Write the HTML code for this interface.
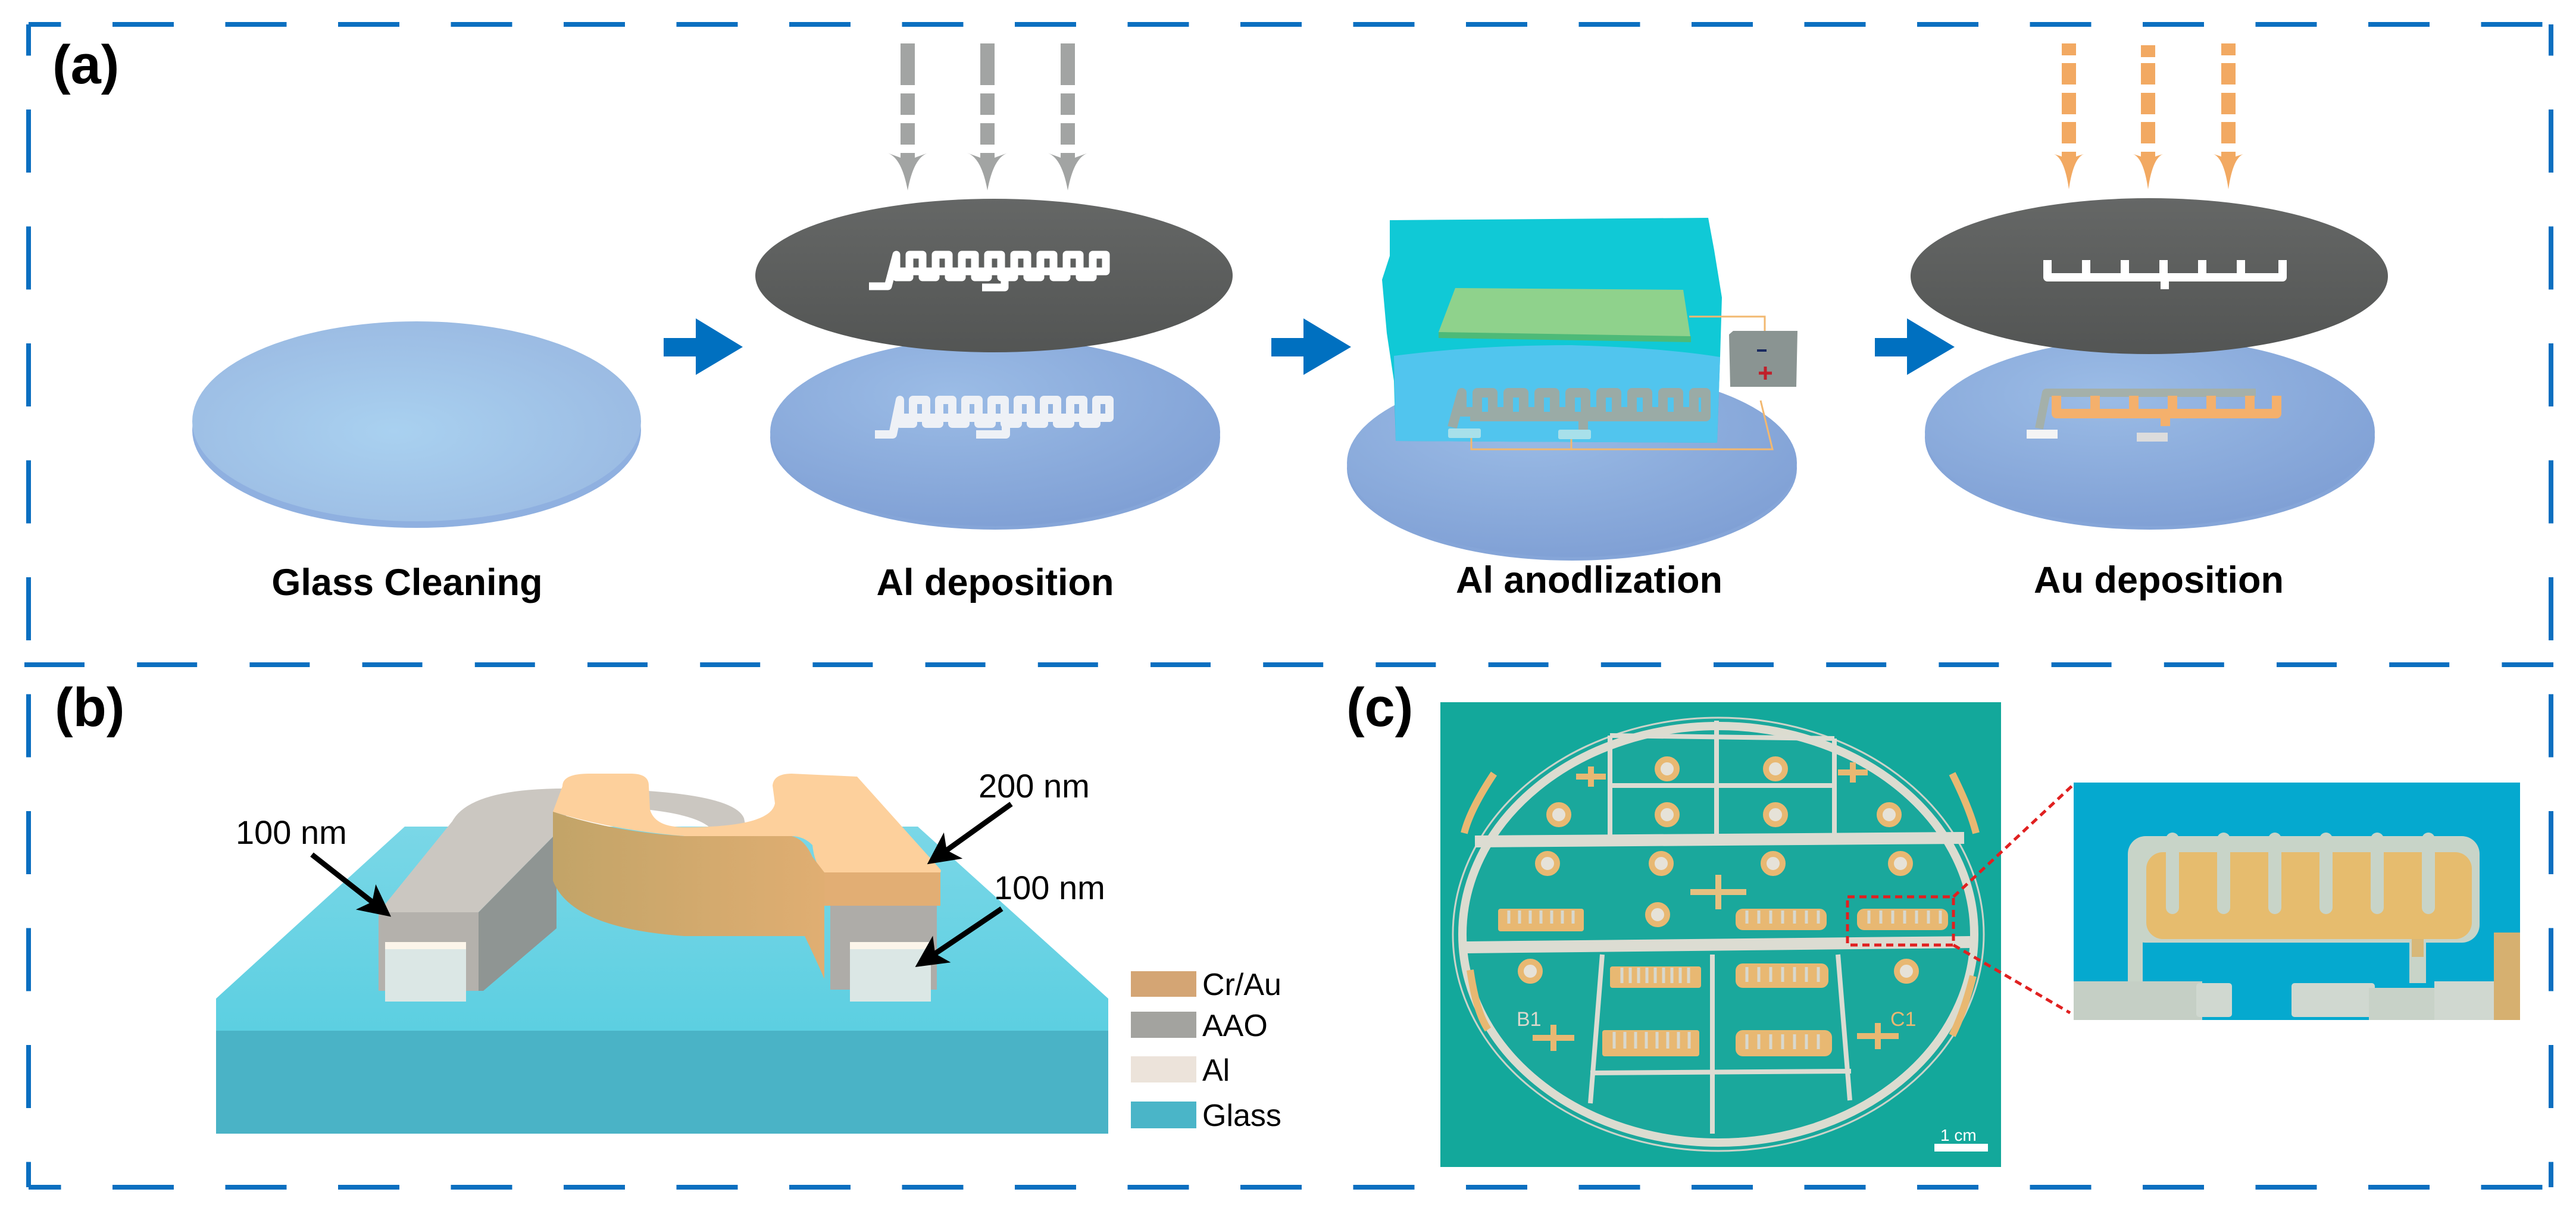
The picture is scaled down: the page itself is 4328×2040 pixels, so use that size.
<!DOCTYPE html>
<html><head><meta charset="utf-8"><style>html,body{margin:0;padding:0;background:#fff}svg{display:block}</style></head><body>
<svg width="4328" height="2040" viewBox="0 0 4328 2040" xmlns="http://www.w3.org/2000/svg" font-family="Liberation Sans, Arial, sans-serif">
<defs>
<radialGradient id="g1" cx="0.45" cy="0.55" r="0.7"><stop offset="0" stop-color="#a9d1f0"/><stop offset="1" stop-color="#98b6e0"/></radialGradient>
<radialGradient id="g2" cx="0.4" cy="0.3" r="0.8"><stop offset="0" stop-color="#9bbce6"/><stop offset="1" stop-color="#7d9dd3"/></radialGradient>
<linearGradient id="dk" x1="0" y1="0" x2="0" y2="1"><stop offset="0" stop-color="#656766"/><stop offset="1" stop-color="#535554"/></linearGradient>
<linearGradient id="gt" x1="0" y1="0" x2="0" y2="1"><stop offset="0" stop-color="#7ad7e7"/><stop offset="1" stop-color="#5ccfe1"/></linearGradient>
<linearGradient id="of" x1="0" y1="0" x2="1" y2="0"><stop offset="0" stop-color="#c2a468"/><stop offset="1" stop-color="#e0ae72"/></linearGradient>
<marker id="ah" markerWidth="6" markerHeight="6" refX="5" refY="3" orient="auto" markerUnits="strokeWidth"><path d="M0,0 L6,3 L0,6 L1.5,3 Z" fill="#000"/></marker>
</defs>

<g stroke="#0b6fc0" stroke-width="8" fill="none">
<line x1="48" y1="41" x2="4286" y2="41" stroke-dasharray="103 86.5" stroke-dashoffset="48.5"/>
<line x1="41" y1="1117" x2="4290" y2="1117" stroke-dasharray="101 88.2"/>
<line x1="48" y1="1995" x2="4286" y2="1995" stroke-dasharray="103 86.5" stroke-dashoffset="48.5"/>
<line x1="48" y1="41" x2="48" y2="1995" stroke-dasharray="106 90.5" stroke-dashoffset="53.5"/>
<line x1="4286" y1="41" x2="4286" y2="1995" stroke-dasharray="106 90.5" stroke-dashoffset="53.5"/>
</g>

<g font-weight="bold" fill="#000">
<text x="88" y="140" font-size="92">(a)</text>
<text x="92" y="1220" font-size="92">(b)</text>
<text x="2262" y="1220" font-size="92">(c)</text>
<g font-size="63" text-anchor="middle">
<text x="684" y="1000">Glass Cleaning</text>
<text x="1672" y="1000">Al deposition</text>
<text x="2670" y="996">Al anodlization</text>
<text x="3627" y="996">Au deposition</text>
</g>
</g>

<g fill="#0070c0">
<path d="M1115,568 H1169 V535 L1248,583 L1169,630 V599 H1115 Z"/>
<path d="M2136,568 H2190 V535 L2270,583 L2190,630 V599 H2136 Z"/>
<path d="M3150,568 H3204 V535 L3284,583 L3204,630 V599 H3150 Z"/>
</g>

<ellipse cx="700" cy="723" rx="377" ry="164" fill="#8fb0e0"/>
<ellipse cx="700" cy="708" rx="377" ry="168" fill="url(#g1)"/>

<ellipse cx="1672" cy="735" rx="378" ry="155" fill="#85a5d8"/>
<ellipse cx="1672" cy="726" rx="378" ry="158" fill="url(#g2)"/>
<g fill="none" stroke="#eef1f6" stroke-width="14" stroke-linejoin="round">
<path d="M1470,730 H1500 L1512,672 v40 h22 v-40 h22 v40 h22 v-40 h22 v40 h22 v-40 h22 v40 h22 v-40 h22 v40 h22 v-40 h22 v40 h22 v-40 h22 v40 h22 v-40 h22 v40 h22 v-40 h22 v30 H1512"/>
<path d="M1690,712 V730 H1640"/>
</g>
<ellipse cx="1670" cy="463" rx="401" ry="129" fill="url(#dk)"/>
<g fill="none" stroke="#fff" stroke-width="13" stroke-linejoin="round">
<path d="M1460,481 H1492 L1506,428 v38 h22 v-38 h22 v38 h22 v-38 h22 v38 h22 v-38 h22 v38 h22 v-38 h22 v38 h22 v-38 h22 v38 h22 v-38 h22 v38 h22 v-38 h22 v38 h22 v-38 h22 v28 H1506"/>
<path d="M1688,466 V483 H1650"/>
</g>
<g fill="#a2a4a3">
<g transform="translate(1525,0)"><rect x="-12" y="73" width="24" height="70"/><rect x="-12" y="157" width="24" height="36"/><rect x="-12" y="207" width="24" height="36"/><path d="M-34,257 Q-10,265 0,320 Q10,265 34,257 L12,265 V257 H-12 V265 Z"/></g>
<g transform="translate(1659,0)"><rect x="-12" y="73" width="24" height="70"/><rect x="-12" y="157" width="24" height="36"/><rect x="-12" y="207" width="24" height="36"/><path d="M-34,257 Q-10,265 0,320 Q10,265 34,257 L12,265 V257 H-12 V265 Z"/></g>
<g transform="translate(1794,0)"><rect x="-12" y="73" width="24" height="70"/><rect x="-12" y="157" width="24" height="36"/><rect x="-12" y="207" width="24" height="36"/><path d="M-34,257 Q-10,265 0,320 Q10,265 34,257 L12,265 V257 H-12 V265 Z"/></g>
</g>

<ellipse cx="2641" cy="787" rx="378" ry="155" fill="#85a5d8"/>
<ellipse cx="2641" cy="778" rx="378" ry="158" fill="url(#g2)"/>
<path d="M2335,370 L2870,366 L2880,420 L2893,500 L2890,600 L2885,744 L2345,741 L2342,640 L2330,560 L2322,470 L2335,430 Z" fill="#10c9d6"/>
<path d="M2342,598 Q2480,580 2640,580 Q2800,585 2890,600 L2885,744 L2345,741 Z" fill="#55c5ef" opacity="0.95"/>
<path d="M2417,558 L2445,484 L2828,487 L2841,572 Z" fill="#8fd28c"/>
<path d="M2417,558 L2841,565 L2841,575 L2417,568 Z" fill="#4dba78"/>
<g fill="none" stroke="#9aaba6" stroke-width="16" stroke-linejoin="round">
<path d="M2440,718 L2456,660 v32 h26 v-32 h26 v32 h26 v-32 h26 v32 h26 v-32 h26 v32 h26 v-32 h26 v32 h26 v-32 h26 v32 h26 v-32 h26 v32 h26 v-32 h26 v32 h26 v-32 h20 v40 H2470"/>
<path d="M2660,700 V722"/>
</g>
<rect x="2433" y="720" width="55" height="16" rx="3" fill="#a8e0ea"/>
<rect x="2618" y="722" width="55" height="16" rx="3" fill="#a8e0ea"/>
<g fill="none" stroke="#f2b870" stroke-width="3">
<path d="M2472,736 V755 H2978 L2958,673"/>
<path d="M2640,738 V755"/>
<path d="M2838,532 H2965 V558"/>
</g>
<path d="M2905,562 L2912,556 L3020,556 L3018,650 L2907,650 Z" fill="#8a9492"/>
<rect x="2952" y="587" width="16" height="4" fill="#1a2a60"/>
<path d="M2955,627 h22 M2966,616 v22" stroke="#c0202a" stroke-width="5"/>

<ellipse cx="3612" cy="735" rx="378" ry="155" fill="#85a5d8"/>
<ellipse cx="3612" cy="726" rx="378" ry="158" fill="url(#g2)"/>
<g fill="none" stroke-linejoin="round">
<path d="M3426,720 L3438,660 H3790" stroke="#a4b0aa" stroke-width="14"/>
<path d="M3455,665 V695 H3825 V665 M3520,695 V665 M3585,695 V665 M3650,695 V665 M3715,695 V665 M3780,695 V665 M3638,695 V716" stroke="#f4b06c" stroke-width="16"/>
</g>
<rect x="3405" y="722" width="52" height="15" fill="#f4f4f4"/>
<rect x="3590" y="727" width="52" height="15" fill="#dcdcdc"/>
<ellipse cx="3611" cy="464" rx="401" ry="131" fill="url(#dk)"/>
<g fill="none" stroke="#fff" stroke-width="14" stroke-linejoin="round">
<path d="M3440,437 V466 H3835 V437 M3505,466 V437 M3570,466 V437 M3635,466 V437 M3700,466 V437 M3765,466 V437 M3637,466 V486"/>
</g>
<g fill="#f2a962">
<g transform="translate(3476,0)"><rect x="-12" y="73" width="24" height="20"/><rect x="-12" y="106" width="24" height="36"/><rect x="-12" y="156" width="24" height="36"/><rect x="-12" y="205" width="24" height="36"/><path d="M-28,258 Q-8,262 0,318 Q8,262 28,258 L12,263 V255 H-12 V263 Z"/></g>
<g transform="translate(3609,0)"><rect x="-12" y="76" width="24" height="20"/><rect x="-12" y="106" width="24" height="36"/><rect x="-12" y="156" width="24" height="36"/><rect x="-12" y="205" width="24" height="36"/><path d="M-28,258 Q-8,262 0,318 Q8,262 28,258 L12,263 V255 H-12 V263 Z"/></g>
<g transform="translate(3744,0)"><rect x="-12" y="73" width="24" height="20"/><rect x="-12" y="106" width="24" height="36"/><rect x="-12" y="156" width="24" height="36"/><rect x="-12" y="205" width="24" height="36"/><path d="M-28,258 Q-8,262 0,318 Q8,262 28,258 L12,263 V255 H-12 V263 Z"/></g>
</g>

<path d="M363,1678 L680,1389 L1542,1389 L1862,1678 L1862,1732 L363,1732 Z" fill="url(#gt)"/>
<rect x="363" y="1732" width="1499" height="173" fill="#4ab3c6"/>
<path d="M636,1533 L760,1380 Q790,1325 950,1325 Q1230,1325 1250,1375 L1254,1395 L1200,1400 Q1180,1360 1000,1355 Q940,1360 935,1400 L804,1533 Z" fill="#cbc7c1"/>
<path d="M804,1533 L935,1400 L935,1560 L812,1665 L804,1665 Z" fill="#8f9593"/>
<rect x="636" y="1533" width="168" height="132" fill="#b4b1ac"/>
<rect x="1395" y="1522" width="179" height="141" fill="#aeaca8"/>
<path d="M945,1321 Q945,1300 990,1300 L1060,1300 Q1090,1300 1090,1320 L1092,1360 Q1100,1390 1150,1390 Q1295,1390 1302,1350 L1298,1320 Q1300,1300 1330,1300 L1440,1305 L1580,1461 Q1585,1470 1560,1470 L1395,1470 Q1370,1465 1365,1420 Q1350,1405 1330,1405 L1150,1405 Q1030,1395 929,1364 Z" fill="#fdd09c"/>
<path d="M929,1364 Q1030,1398 1150,1405 L1330,1405 Q1352,1410 1365,1440 L1385,1466 L1385,1645 Q1370,1610 1352,1573 L1150,1573 Q960,1560 929,1480 Z" fill="url(#of)"/>
<rect x="1385" y="1466" width="195" height="56" fill="#e2ae74"/>
<rect x="647" y="1583" width="136" height="100" fill="#dbe7e5"/>
<rect x="647" y="1583" width="136" height="12" fill="#fcf5ea"/>
<rect x="1428" y="1583" width="136" height="100" fill="#dbe7e5"/>
<rect x="1428" y="1583" width="136" height="12" fill="#fcf5ea"/>
<g stroke="#000" stroke-width="9" marker-end="url(#ah)">
<line x1="524" y1="1436" x2="650" y2="1535"/>
<line x1="1699" y1="1351" x2="1565" y2="1447"/>
<line x1="1683" y1="1527" x2="1545" y2="1620"/>
</g>
<g font-size="56" fill="#000">
<text x="396" y="1418">100 nm</text>
<text x="1644" y="1340">200 nm</text>
<text x="1670" y="1511">100 nm</text>
</g>
<rect x="1900" y="1632" width="110" height="43" fill="#d4a574"/>
<rect x="1900" y="1700" width="110" height="44" fill="#a3a39f"/>
<rect x="1900" y="1775" width="110" height="44" fill="#ece3da"/>
<rect x="1900" y="1851" width="110" height="45" fill="#4ab5c8"/>
<g font-size="52" fill="#000">
<text x="2020" y="1672">Cr/Au</text>
<text x="2020" y="1741">AAO</text>
<text x="2020" y="1816">Al</text>
<text x="2020" y="1892">Glass</text>
</g>

<rect x="2420" y="1180" width="942" height="781" fill="#13a89b"/>
<ellipse cx="2887" cy="1570" rx="446" ry="364" fill="#1aa89c" stroke="#ccd3c9" stroke-width="3"/>
<ellipse cx="2887" cy="1570" rx="430" ry="350" fill="none" stroke="#dcdcd0" stroke-width="14"/>
<g stroke="#dcdcd2" fill="none">
<line x1="2478" y1="1414" x2="3300" y2="1408" stroke-width="20"/>
<line x1="2462" y1="1592" x2="3310" y2="1583" stroke-width="20"/>
<g stroke-width="8">
<line x1="2705" y1="1236" x2="2705" y2="1410"/><line x1="2884" y1="1211" x2="2884" y2="1405"/><line x1="3082" y1="1241" x2="3082" y2="1400"/>
<line x1="2692" y1="1604" x2="2672" y2="1854"/><line x1="2877" y1="1604" x2="2877" y2="1905"/><line x1="3088" y1="1604" x2="3108" y2="1849"/>
<line x1="2672" y1="1803" x2="3110" y2="1800"/>
<line x1="2705" y1="1320" x2="3082" y2="1320"/>
<line x1="2705" y1="1236" x2="3082" y2="1241"/>
</g>
</g>
<g fill="#e8b872">
<rect x="2517" y="1527" width="144" height="38" rx="4"/>
<rect x="2705" y="1624" width="153" height="36" rx="4"/>
<rect x="2916" y="1527" width="153" height="36" rx="12"/>
<rect x="2916" y="1619" width="156" height="41" rx="12"/>
<rect x="3120" y="1527" width="153" height="36" rx="12"/>
<rect x="2692" y="1731" width="163" height="44" rx="4"/>
<rect x="2916" y="1731" width="162" height="44" rx="12"/>
</g>
<g stroke="#d8d8ce" stroke-width="5">
<path d="M2535,1530 v22 m18,-22 v22 m18,-22 v22 m18,-22 v22 m18,-22 v22 m18,-22 v22 m18,-22 v22"/>
<path d="M2725,1626 v26 m14,-26 v26 m14,-26 v26 m14,-26 v26 m14,-26 v26 m14,-26 v26 m14,-26 v26 m14,-26 v26 m14,-26 v26"/>
<path d="M2712,1734 v28 m18,-28 v28 m18,-28 v28 m18,-28 v28 m18,-28 v28 m18,-28 v28 m18,-28 v28 m18,-28 v28"/>
<path d="M2935,1530 v22 m20,-22 v22 m20,-22 v22 m20,-22 v22 m20,-22 v22 m20,-22 v22 m20,-22 v22"/>
<path d="M3140,1530 v22 m20,-22 v22 m20,-22 v22 m20,-22 v22 m20,-22 v22 m20,-22 v22 m20,-22 v22"/>
<path d="M2935,1625 v25 m20,-25 v25 m20,-25 v25 m20,-25 v25 m20,-25 v25 m20,-25 v25 m20,-25 v25"/>
<path d="M2935,1738 v25 m20,-25 v25 m20,-25 v25 m20,-25 v25 m20,-25 v25 m20,-25 v25 m20,-25 v25"/>
</g>
<g fill="#e6e2d8" stroke="#e8b872" stroke-width="10">
<circle cx="2801" cy="1292" r="16"/><circle cx="2983" cy="1292" r="16"/>
<circle cx="2619" cy="1369" r="16"/><circle cx="2801" cy="1369" r="16"/><circle cx="2983" cy="1369" r="16"/><circle cx="3174" cy="1369" r="16"/>
<circle cx="2600" cy="1451" r="16"/><circle cx="2791" cy="1451" r="16"/><circle cx="2979" cy="1451" r="16"/><circle cx="3193" cy="1451" r="16"/>
<circle cx="2785" cy="1537" r="16"/><circle cx="2571" cy="1632" r="16"/><circle cx="3203" cy="1632" r="16"/>
</g>
<g stroke="#e8b872" stroke-width="10">
<path d="M2648,1305 h50 M2673,1288 v34"/><path d="M3088,1298 h50 M3113,1281 v34"/>
<path d="M2840,1499 h94 M2887,1470 v58" stroke="#e6c080"/>
<path d="M2575,1744 h70 M2610,1722 v44"/><path d="M3120,1741 h70 M3155,1719 v44"/>
<path d="M2510,1300 Q2470,1360 2460,1400 M2470,1630 Q2480,1700 2500,1730 M3280,1300 Q3310,1360 3320,1400 M3315,1640 Q3300,1700 3280,1740" stroke-width="12"/>
</g>
<text x="2548" y="1724" font-size="34" fill="#d8d8cc">B1</text>
<text x="3176" y="1724" font-size="34" fill="#e8b872">C1</text>
<text x="3260" y="1917" font-size="28" fill="#fff">1 cm</text>
<rect x="3250" y="1922" width="90" height="13" fill="#fff"/>
<rect x="3104" y="1507" width="178" height="81" fill="none" stroke="#e02020" stroke-width="5" stroke-dasharray="12 8"/>
<g stroke="#e02020" stroke-width="5" stroke-dasharray="12 8">
<line x1="3282" y1="1507" x2="3484" y2="1318"/>
<line x1="3282" y1="1588" x2="3478" y2="1702"/>
</g>
<rect x="3484" y="1315" width="750" height="399" fill="#05a9cf"/>
<rect x="3575" y="1405" width="591" height="179" rx="30" fill="#c8d4c8"/>
<rect x="3606" y="1432" width="547" height="146" rx="28" fill="#e6bc6e"/>
<g stroke="#c8d4c8" stroke-width="22" stroke-linecap="round" fill="none">
<path d="M3650,1410 V1525 M3736,1410 V1525 M3822,1410 V1525 M3908,1410 V1525 M3994,1410 V1525 M4080,1410 V1525"/>
</g>
<g stroke="#e6bc6e" stroke-width="26" stroke-linecap="round" fill="none">
<path d="M3693,1460 V1560 M3779,1460 V1560 M3865,1460 V1560 M3951,1460 V1560 M4037,1460 V1560 M4123,1460 V1560"/>
</g>
<rect x="3575" y="1440" width="25" height="212" fill="#c8d4c8"/>
<rect x="4048" y="1578" width="28" height="74" fill="#c8d4c8"/>
<rect x="4052" y="1578" width="20" height="30" fill="#d8b878"/>
<rect x="3484" y="1649" width="216" height="65" fill="#c5cfc5"/>
<rect x="3690" y="1652" width="60" height="57" rx="5" fill="#d0d8d0"/>
<rect x="3850" y="1652" width="140" height="57" rx="5" fill="#d0d8d0"/>
<rect x="3980" y="1660" width="120" height="54" fill="#c8d2c8"/>
<rect x="4090" y="1649" width="100" height="65" fill="#d0d8d0"/>
<rect x="4190" y="1567" width="44" height="147" fill="#d6b070"/>
</svg>
</body></html>
